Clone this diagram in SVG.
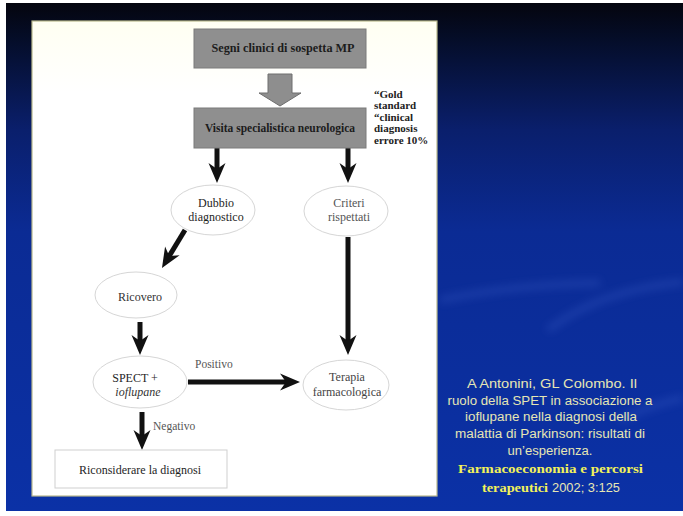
<svg xmlns="http://www.w3.org/2000/svg" width="683" height="516" viewBox="0 0 683 516">
<defs>
<linearGradient id="bg" x1="0" y1="0" x2="0" y2="1">
<stop offset="0" stop-color="#04050e"/>
<stop offset="0.08" stop-color="#050e2c"/>
<stop offset="0.25" stop-color="#0a1f6c"/>
<stop offset="0.45" stop-color="#0b2b94"/>
<stop offset="1" stop-color="#0b31a6"/>
</linearGradient>
<linearGradient id="panel" x1="0" y1="0" x2="0" y2="1">
<stop offset="0" stop-color="#fffff2"/>
<stop offset="0.15" stop-color="#ffffff"/>
<stop offset="1" stop-color="#ffffff"/>
</linearGradient>
<filter id="blur" x="-20%" y="-50%" width="140%" height="200%"><feGaussianBlur stdDeviation="4"/></filter>
<marker id="ah" viewBox="-21 -9 22 18" refX="-12" refY="0" markerWidth="22" markerHeight="18" markerUnits="userSpaceOnUse" orient="auto">
<path d="M0,0 L-20,-8.5 L-14,0 L-20,8.5 Z" fill="#111"/>
</marker>
<style>
.box{fill:#8f8f8f;stroke:#7a7a7a;stroke-width:1}
.btxt{font-family:"Liberation Serif",serif;font-weight:bold;font-size:12px;fill:#1c1c1c;text-anchor:middle}
.ell{fill:#ffffff;stroke:#d6d6d6;stroke-width:1}
.etxt{font-family:"Liberation Serif",serif;font-size:12px;text-anchor:middle}
.lbl{font-family:"Liberation Serif",serif;font-size:11.5px;fill:#555}
.gold{font-family:"Liberation Serif",serif;font-weight:bold;font-size:11px;fill:#222}
.arr{stroke:#111;stroke-width:5;fill:none;marker-end:url(#ah)}
.cit{font-family:"Liberation Sans",sans-serif;font-size:12.5px;fill:#e6e6b4;text-anchor:middle}
.citb{font-family:"Liberation Serif",serif;font-weight:bold;font-size:13.5px;fill:#f2f25a}
</style>
</defs>
<rect x="0" y="0" width="683" height="516" fill="#ffffff"/>
<rect x="6" y="3" width="677" height="508" fill="url(#bg)"/>
<g opacity="0.3" filter="url(#blur)" fill="none" stroke="#4a6ad0" stroke-width="6">
<path d="M440,300 Q520,284 600,283"/>
<path d="M548,330 Q600,290 683,282"/>
<path d="M620,420 Q650,405 683,398"/>
</g>
<rect x="32" y="21" width="405" height="475" fill="url(#panel)" stroke="#b9b98e" stroke-width="1.2"/>

<g id="connectors">
<polygon points="268,74 292,74 292,93 301,93 280,106 259,93 268,93" fill="#8e8e8e" stroke="#6e6e6e" stroke-width="1"/>
<line class="arr" x1="217" y1="148" x2="217" y2="171"/>
<line class="arr" x1="348" y1="148" x2="348" y2="171"/>
<line class="arr" x1="185" y1="230" x2="168.2" y2="257.7"/>
<line class="arr" x1="140" y1="322" x2="140" y2="343"/>
<line class="arr" x1="348" y1="237" x2="348" y2="343"/>
<line class="arr" x1="188" y1="382" x2="288" y2="382"/>
<line class="arr" x1="142" y1="412" x2="142" y2="438"/>
<text class="lbl" x="195" y="368">Positivo</text>
<text class="lbl" x="153" y="430">Negativo</text>
</g>

<g id="segni">
<rect class="box" x="194" y="29" width="172" height="39"/>
<text class="btxt" x="283" y="52" textLength="143" lengthAdjust="spacingAndGlyphs">Segni clinici di sospetta MP</text>
</g>
<g id="visita">
<rect class="box" x="194" y="108" width="172" height="40"/>
<text class="btxt" x="280" y="132" textLength="150" lengthAdjust="spacingAndGlyphs">Visita specialistica neurologica</text>
</g>
<g id="gold-note">
<text class="gold" x="374" y="97.5">“Gold</text>
<text class="gold" x="374" y="109">standard</text>
<text class="gold" x="374" y="120.5">“clinical</text>
<text class="gold" x="374" y="132">diagnosis</text>
<text class="gold" x="374" y="143.5">errore 10%</text>
</g>
<g id="dubbio">
<ellipse class="ell" cx="213" cy="210" rx="42" ry="25"/>
<text class="etxt" x="216" y="207" fill="#1e1e1e">Dubbio</text>
<text class="etxt" x="216" y="221" fill="#1e1e1e">diagnostico</text>
</g>
<g id="criteri">
<ellipse class="ell" cx="346" cy="211" rx="42" ry="25"/>
<text class="etxt" x="349" y="207" fill="#555">Criteri</text>
<text class="etxt" x="349" y="221" fill="#555">rispettati</text>
</g>
<g id="ricovero">
<ellipse class="ell" cx="136" cy="295" rx="41" ry="23"/>
<text class="etxt" x="140" y="301" fill="#333">Ricovero</text>
</g>
<g id="spect">
<ellipse class="ell" cx="140" cy="382" rx="47" ry="26"/>
<text class="etxt" x="135" y="382" fill="#1e1e1e">SPECT +</text>
<text class="etxt" x="138" y="396" fill="#333" font-style="italic">ioflupane</text>
</g>
<g id="terapia">
<ellipse class="ell" cx="346" cy="385" rx="43" ry="25"/>
<text class="etxt" x="347" y="381" fill="#444">Terapia</text>
<text class="etxt" x="347" y="396" fill="#444">farmacologica</text>
</g>
<g id="riconsiderare">
<rect x="55" y="450" width="172" height="38" fill="#ffffff" stroke="#cfcfcf" stroke-width="1"/>
<text class="etxt" x="140" y="474" fill="#1e1e1e">Riconsiderare la diagnosi</text>
</g>

<g id="citation">
<text class="cit" x="552" y="388" textLength="170" lengthAdjust="spacingAndGlyphs">A Antonini, GL Colombo. Il</text>
<text class="cit" x="550" y="405" textLength="205" lengthAdjust="spacingAndGlyphs">ruolo della SPET in associazione a</text>
<text class="cit" x="551" y="421" textLength="172" lengthAdjust="spacingAndGlyphs">ioflupane nella diagnosi della</text>
<text class="cit" x="550" y="438" textLength="190" lengthAdjust="spacingAndGlyphs">malattia di Parkinson: risultati di</text>
<text class="cit" x="550" y="455" textLength="85" lengthAdjust="spacingAndGlyphs">un’esperienza.</text>
<text class="citb" x="458" y="473" textLength="185" lengthAdjust="spacingAndGlyphs">Farmacoeconomia e percorsi</text>
<text class="citb" x="482" y="492" textLength="66" lengthAdjust="spacingAndGlyphs">terapeutici</text>
<text class="cit" x="586" y="492" textLength="68" lengthAdjust="spacingAndGlyphs">2002; 3:125</text>
</g>
</svg>
